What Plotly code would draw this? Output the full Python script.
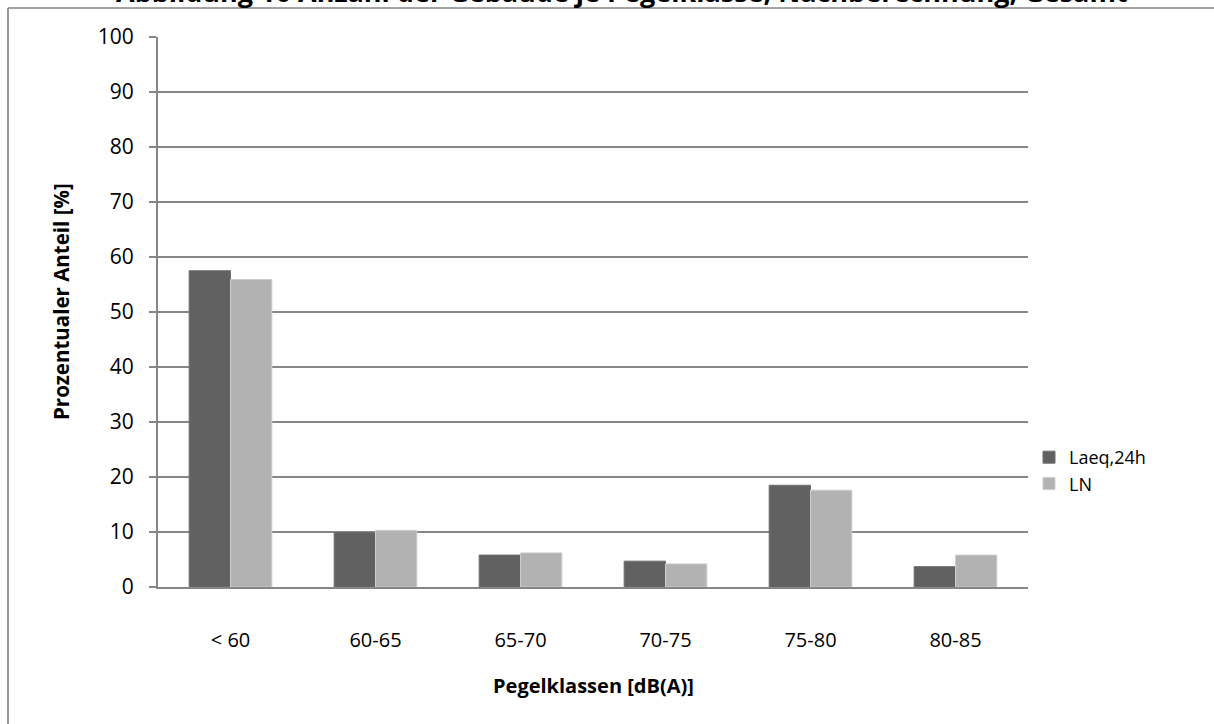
import plotly.graph_objects as go

# Level classes and the share of buildings in each (percent)
categories = ["< 60", "60-65", "65-70", "70-75", "75-80", "80-85"]
laeq_24h = [57.5, 9.9, 5.8, 4.7, 18.5, 3.7]
ln_values = [55.9, 10.3, 6.2, 4.2, 17.6, 5.8]
y_ticks = [0, 10, 20, 30, 40, 50, 60, 70, 80, 90, 100]

title_text = "Abbildung 16 Anzahl der Gebäude je Pegelklasse, Nachberechnung, Gesamt"
x_title = "Pegelklassen [dB(A)]"
y_title = "Prozentualer Anteil [%]"

FONT = "Open Sans"
AXIS_GREY = "#868686"

# page geometry (pixels)
W, H = 1214, 724
PL, PR, PT, PB = 158, 1028, 37, 587


def px_x(px):
    return (px - PL) / (PR - PL)


def px_y(py):
    return (PB - py) / (PB - PT)


fig = go.Figure()
fig.add_trace(go.Bar(
    x=categories, y=laeq_24h, name="Laeq,24h",
    marker=dict(color="#616161", line=dict(color="#6e6e6e", width=1)),
))
fig.add_trace(go.Bar(
    x=categories, y=ln_values, name="LN",
    marker=dict(color="#b2b2b2", line=dict(color="#cdcdcd", width=1)),
))

fig.update_layout(
    width=W, height=H,
    margin=dict(l=PL, r=W - PR, t=PT, b=H - PB),
    paper_bgcolor="white", plot_bgcolor="white",
    barmode="group", bargap=0.43, bargroupgap=0,
    font=dict(family=FONT, size=21, color="black"),
    showlegend=True,
    legend=dict(
        x=px_x(1029), y=px_y(439), xanchor="left", yanchor="top",
        font=dict(family=FONT, size=18, color="black"),
        bgcolor="rgba(0,0,0,0)", itemwidth=30, tracegroupgap=0,
    ),
)

fig.update_xaxes(
    showline=True, linecolor=AXIS_GREY, linewidth=2,
    showgrid=False, ticks="", ticklabelstandoff=34,
    tickfont=dict(family=FONT, size=20),
)
fig.update_yaxes(
    range=[0, 100], tickvals=y_ticks,
    showline=True, linecolor=AXIS_GREY, linewidth=2,
    showgrid=True, gridcolor=AXIS_GREY, gridwidth=1.5,
    ticks="outside", ticklen=7, tickcolor=AXIS_GREY, tickwidth=1.5,
    ticklabelstandoff=11,
    tickfont=dict(family=FONT, size=21),
    zeroline=False,
)

# axis titles
fig.add_annotation(
    text="<b>" + x_title + "</b>", xref="paper", yref="paper",
    x=px_x(593), y=px_y(685), xanchor="center", yanchor="middle",
    showarrow=False, font=dict(family=FONT, size=20, color="black"),
)
fig.add_annotation(
    text="<b>" + y_title + "</b>", xref="paper", yref="paper",
    x=px_x(61), y=px_y(302), xanchor="center", yanchor="middle",
    textangle=-90, showarrow=False,
    font=dict(family=FONT, size=20.5, color="black"),
)

# chart title, largely cut off by the top of the page
fig.add_annotation(
    text="<b>" + title_text + "</b>",
    xref="paper", yref="paper", x=px_x(622), y=px_y(12),
    xanchor="center", yanchor="bottom", showarrow=False,
    font=dict(family=FONT, size=27, color="black"),
)

# outer chart border (top and left edges visible)
fig.add_shape(
    type="line", xref="paper", yref="paper",
    x0=px_x(8), y0=px_y(8), x1=px_x(1230), y1=px_y(8),
    line=dict(color=AXIS_GREY, width=1.7),
)
fig.add_shape(
    type="line", xref="paper", yref="paper",
    x0=px_x(8), y0=px_y(8), x1=px_x(8), y1=px_y(740),
    line=dict(color=AXIS_GREY, width=1.7),
)

fig.write_html("out.html")
